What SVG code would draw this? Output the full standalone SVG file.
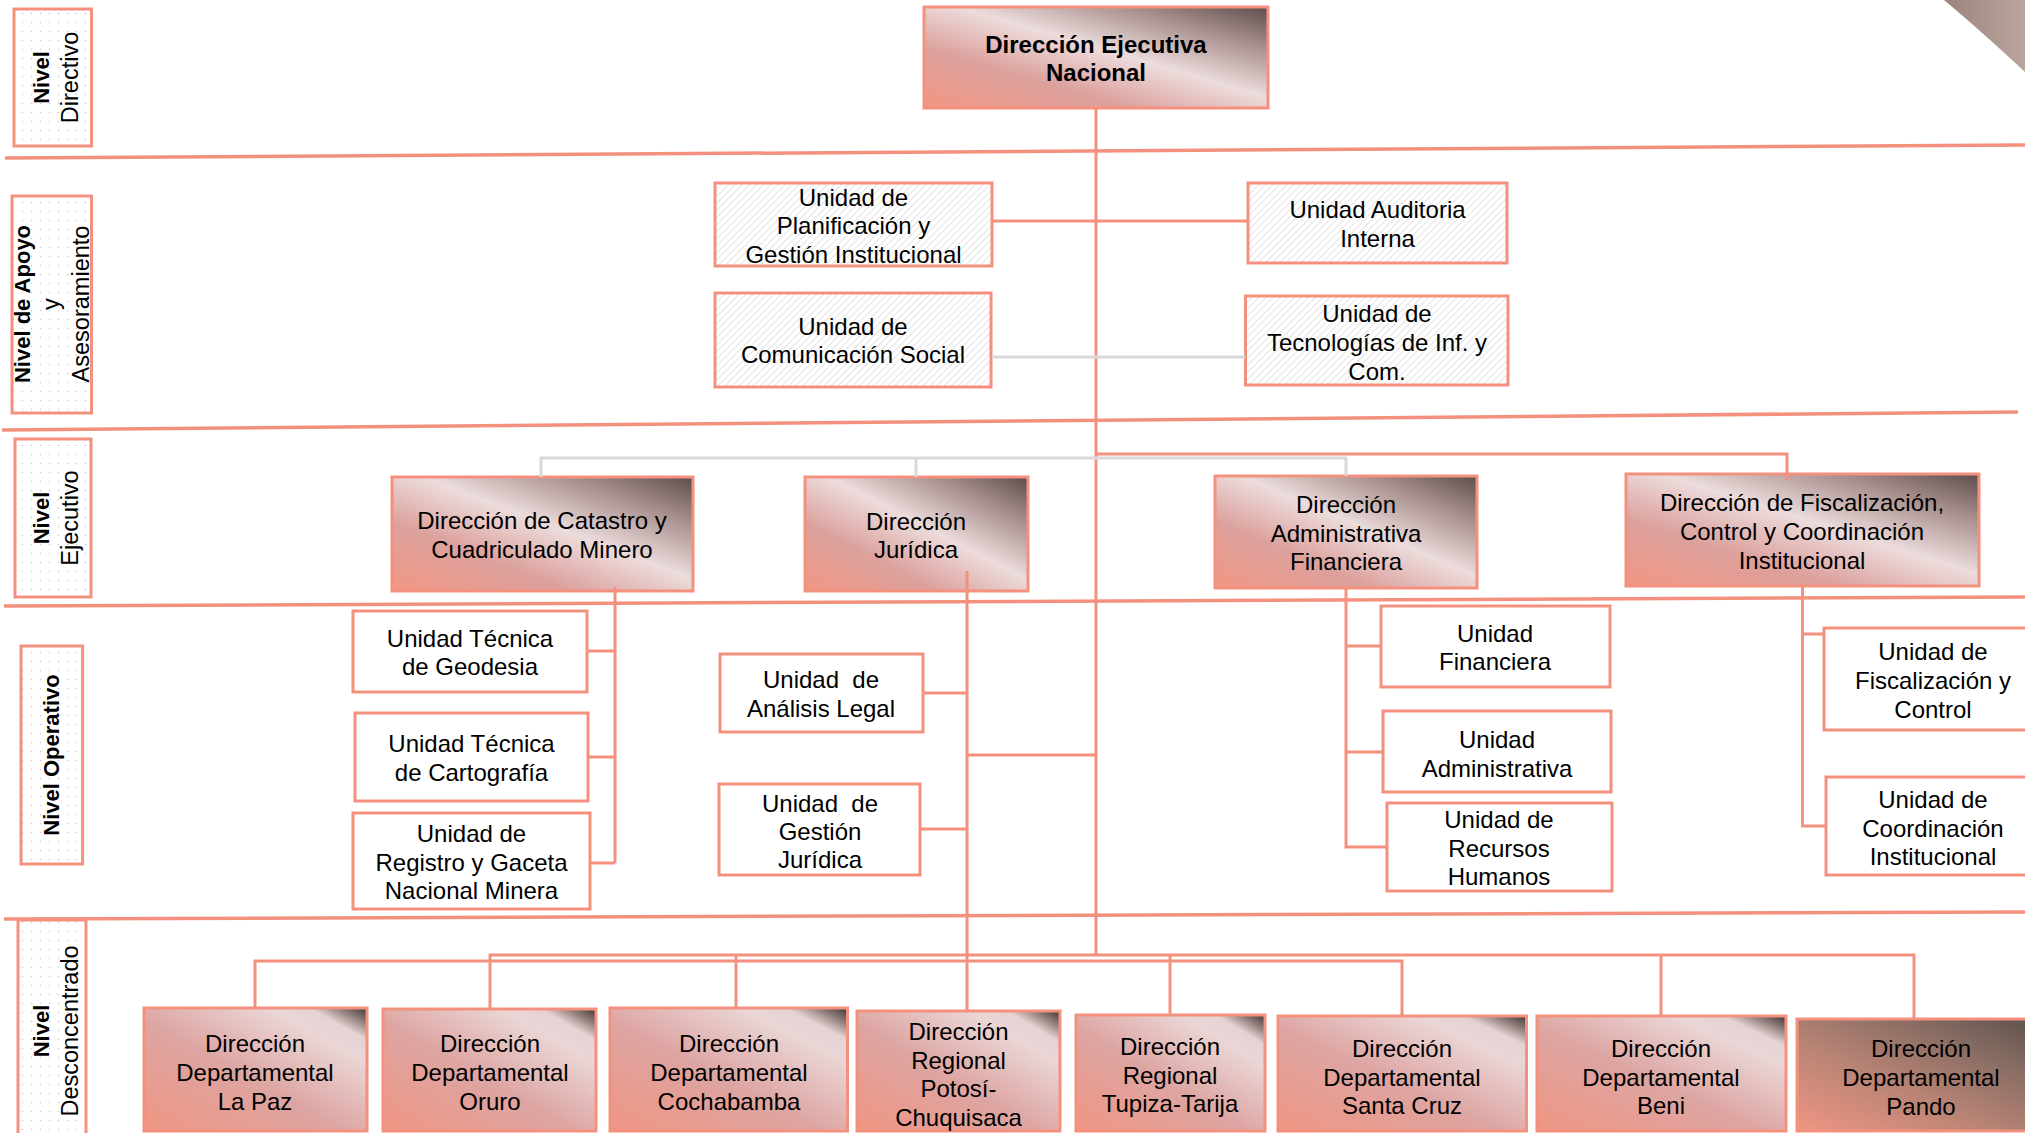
<svg xmlns="http://www.w3.org/2000/svg" width="2025" height="1133" viewBox="0 0 2025 1133">
<defs>
<linearGradient id="gExec" x1="0" y1="1" x2="1" y2="0">
<stop offset="0" stop-color="#f29683"/>
<stop offset="0.3" stop-color="#dca19d"/>
<stop offset="0.55" stop-color="#ecdcdc"/>
<stop offset="0.8" stop-color="#a58d8a"/>
<stop offset="1" stop-color="#5b4d4b"/>
</linearGradient>
<linearGradient id="gDept" x1="0" y1="1" x2="1" y2="0">
<stop offset="0" stop-color="#f09583"/>
<stop offset="0.45" stop-color="#dda5a2"/>
<stop offset="0.78" stop-color="#ead6d6"/>
<stop offset="0.87" stop-color="#e6d2d2"/>
<stop offset="0.94" stop-color="#8a7876"/>
<stop offset="1" stop-color="#3e3634"/>
</linearGradient>
<linearGradient id="gPando" x1="0" y1="1" x2="1" y2="0">
<stop offset="0" stop-color="#f09583"/>
<stop offset="0.4" stop-color="#b98475"/>
<stop offset="0.7" stop-color="#8b6e64"/>
<stop offset="1" stop-color="#5a504c"/>
</linearGradient>
<linearGradient id="gCorner" x1="0" y1="0" x2="1" y2="0">
<stop offset="0" stop-color="#9c837b"/>
<stop offset="1" stop-color="#b9a69e"/>
</linearGradient>
<pattern id="dots" width="9" height="9" patternUnits="userSpaceOnUse">
<rect width="9" height="9" fill="#fff"/>
<circle cx="4.5" cy="4.5" r="0.8" fill="#cacaca"/>
</pattern>
<pattern id="hatch" width="5" height="5" patternUnits="userSpaceOnUse" patternTransform="rotate(45)">
<rect width="5" height="5" fill="#fff"/>
<line x1="0" y1="0" x2="0" y2="5" stroke="#d2d2d2" stroke-width="1.2"/>
</pattern>
</defs>
<style>
.lvl{fill:url(#dots);stroke:#f4917e;stroke-width:3}
.sup{fill:url(#hatch);stroke:#f4917e;stroke-width:3}
.exe{fill:url(#gExec);stroke:#f4917e;stroke-width:3}
.op{fill:#fff;stroke:#f4917e;stroke-width:3}
.dep{fill:url(#gDept);stroke:#f4917e;stroke-width:3}
.pan{fill:url(#gPando);stroke:#f4917e;stroke-width:3}
.sep{stroke:#f4917e;stroke-width:3.5;fill:none}
.c{stroke:#f4917e;stroke-width:3;fill:none}
.g{stroke:#d9d9d9;stroke-width:3;fill:none}
text{font-family:"Liberation Sans",Arial,sans-serif;font-size:24px;fill:#000;text-anchor:middle}
.b{font-weight:bold}
.lt{font-size:23.5px}
.lb{font-size:22px;font-weight:bold}
</style>
<rect width="2025" height="1133" fill="#fff"/>
<path d="M1944,0 Q1980,30 2025,72 L2025,0 Z" fill="url(#gCorner)"/>

<g id="levels">
<line class="sep" x1="5" y1="158" x2="2025" y2="145"/>
<line class="sep" x1="2" y1="430" x2="2018" y2="412"/>
<line class="sep" x1="4" y1="606" x2="2025" y2="597"/>
<line class="sep" x1="4" y1="919" x2="2025" y2="912"/>
</g>

<g id="lvl-directivo">
<rect class="lvl" x="14" y="9" width="77.5" height="137"/>
<text class="lb" transform="translate(49,77.5) rotate(-90)">Nivel</text>
<text class="lt" transform="translate(78,77.5) rotate(-90)">Directivo</text>
</g>
<g id="lvl-apoyo">
<rect class="lvl" x="12" y="196" width="79.5" height="217"/>
<text class="lb" transform="translate(29.5,304) rotate(-90)">Nivel de Apoyo</text>
<text class="lt" transform="translate(59,304) rotate(-90)">y</text>
<text class="lt" transform="translate(88.5,304) rotate(-90)">Asesoramiento</text>
</g>
<g id="lvl-ejecutivo">
<rect class="lvl" x="15" y="439" width="76" height="158"/>
<text class="lb" transform="translate(49,518) rotate(-90)">Nivel</text>
<text class="lt" transform="translate(77.5,518) rotate(-90)">Ejecutivo</text>
</g>
<g id="lvl-operativo">
<rect class="lvl" x="21" y="646" width="61.6" height="218"/>
<text class="lb" transform="translate(59,755) rotate(-90)">Nivel Operativo</text>
</g>
<g id="lvl-desconcentrado">
<rect class="lvl" x="18" y="920" width="68" height="230"/>
<text class="lb" transform="translate(49,1031) rotate(-90)">Nivel</text>
<text class="lt" transform="translate(78,1031) rotate(-90)">Desconcentrado</text>
</g>

<g id="den">
<rect class="exe" x="924" y="7" width="344" height="101"/>
<text class="b"><tspan x="1096" y="52.5">Dirección Ejecutiva</tspan><tspan x="1096" y="80.5">Nacional</tspan></text>
</g>
<g id="planificacion">
<rect class="sup" x="715" y="183" width="277" height="83"/>
<text><tspan x="853.5" y="205.5">Unidad de</tspan><tspan x="853.5" y="234">Planificación y</tspan><tspan x="853.5" y="262.5">Gestión Institucional</tspan></text>
</g>
<g id="auditoria">
<rect class="sup" x="1248" y="183" width="259" height="80"/>
<text><tspan x="1377.5" y="218">Unidad Auditoria</tspan><tspan x="1377.5" y="247">Interna</tspan></text>
</g>
<g id="comunicacion">
<rect class="sup" x="715" y="293" width="276" height="94"/>
<text><tspan x="853" y="334.5">Unidad de</tspan><tspan x="853" y="362.5">Comunicación Social</tspan></text>
</g>
<g id="tecnologias">
<rect class="sup" x="1245.5" y="296" width="262.5" height="89"/>
<text><tspan x="1377" y="321.5">Unidad de</tspan><tspan x="1377" y="351">Tecnologías de Inf. y</tspan><tspan x="1377" y="380">Com.</tspan></text>
</g>

<g id="catastro">
<rect class="exe" x="392" y="477" width="301" height="114"/>
<text><tspan x="542" y="529">Dirección de Catastro y</tspan><tspan x="542" y="558">Cuadriculado Minero</tspan></text>
</g>
<g id="juridica">
<rect class="exe" x="805" y="477" width="223" height="114"/>
<text><tspan x="916" y="530">Dirección</tspan><tspan x="916" y="558">Jurídica</tspan></text>
</g>
<g id="admfin">
<rect class="exe" x="1215" y="476" width="262" height="112"/>
<text><tspan x="1346" y="513">Dirección</tspan><tspan x="1346" y="541.5">Administrativa</tspan><tspan x="1346" y="570">Financiera</tspan></text>
</g>
<g id="fiscalizacion">
<rect class="exe" x="1626" y="474" width="353" height="112"/>
<text><tspan x="1802" y="511">Dirección de Fiscalización,</tspan><tspan x="1802" y="540">Control y Coordinación</tspan><tspan x="1802" y="569">Institucional</tspan></text>
</g>

<g id="geodesia">
<rect class="op" x="353" y="611" width="234" height="81"/>
<text><tspan x="470" y="646.5">Unidad Técnica</tspan><tspan x="470" y="675">de Geodesia</tspan></text>
</g>
<g id="cartografia">
<rect class="op" x="355" y="713" width="233" height="88"/>
<text><tspan x="471.5" y="752">Unidad Técnica</tspan><tspan x="471.5" y="780.5">de Cartografía</tspan></text>
</g>
<g id="registro">
<rect class="op" x="353" y="813" width="237" height="96"/>
<text><tspan x="471.5" y="842">Unidad de</tspan><tspan x="471.5" y="870.5">Registro y Gaceta</tspan><tspan x="471.5" y="899">Nacional Minera</tspan></text>
</g>
<g id="analisis">
<rect class="op" x="720" y="654" width="203" height="78"/>
<text><tspan x="821" y="688">Unidad&#160; de</tspan><tspan x="821" y="716.5">Análisis Legal</tspan></text>
</g>
<g id="gestion-juridica">
<rect class="op" x="719" y="784" width="201" height="91"/>
<text><tspan x="820" y="812">Unidad&#160; de</tspan><tspan x="820" y="840">Gestión</tspan><tspan x="820" y="868">Jurídica</tspan></text>
</g>
<g id="financiera">
<rect class="op" x="1381" y="606" width="229" height="81"/>
<text><tspan x="1495" y="641.5">Unidad</tspan><tspan x="1495" y="670">Financiera</tspan></text>
</g>
<g id="administrativa">
<rect class="op" x="1383" y="711" width="228" height="81"/>
<text><tspan x="1497" y="748">Unidad</tspan><tspan x="1497" y="777">Administrativa</tspan></text>
</g>
<g id="rrhh">
<rect class="op" x="1387" y="803" width="225" height="88"/>
<text><tspan x="1499" y="828">Unidad de</tspan><tspan x="1499" y="856.5">Recursos</tspan><tspan x="1499" y="885">Humanos</tspan></text>
</g>
<g id="fisc-control">
<rect class="op" x="1824" y="628" width="218" height="102"/>
<text><tspan x="1933" y="660">Unidad de</tspan><tspan x="1933" y="689">Fiscalización y</tspan><tspan x="1933" y="718">Control</tspan></text>
</g>
<g id="coordinacion">
<rect class="op" x="1826" y="777" width="218" height="98"/>
<text><tspan x="1933" y="808">Unidad de</tspan><tspan x="1933" y="836.5">Coordinación</tspan><tspan x="1933" y="865">Institucional</tspan></text>
</g>

<g id="lapaz">
<rect class="dep" x="144" y="1008" width="223" height="123"/>
<text><tspan x="255" y="1052">Dirección</tspan><tspan x="255" y="1081">Departamental</tspan><tspan x="255" y="1110">La Paz</tspan></text>
</g>
<g id="oruro">
<rect class="dep" x="383" y="1009" width="213" height="122"/>
<text><tspan x="490" y="1052">Dirección</tspan><tspan x="490" y="1081">Departamental</tspan><tspan x="490" y="1110">Oruro</tspan></text>
</g>
<g id="cochabamba">
<rect class="dep" x="610" y="1008" width="237.5" height="123"/>
<text><tspan x="729" y="1052">Dirección</tspan><tspan x="729" y="1081">Departamental</tspan><tspan x="729" y="1110">Cochabamba</tspan></text>
</g>
<g id="potosi">
<rect class="dep" x="857" y="1011" width="203" height="120"/>
<text><tspan x="958.5" y="1040">Dirección</tspan><tspan x="958.5" y="1068.5">Regional</tspan><tspan x="958.5" y="1097">Potosí-</tspan><tspan x="958.5" y="1125.5">Chuquisaca</tspan></text>
</g>
<g id="tupiza">
<rect class="dep" x="1076" y="1015" width="189" height="116"/>
<text><tspan x="1170" y="1055">Dirección</tspan><tspan x="1170" y="1083.5">Regional</tspan><tspan x="1170" y="1112">Tupiza-Tarija</tspan></text>
</g>
<g id="santacruz">
<rect class="dep" x="1278" y="1016" width="248.5" height="115"/>
<text><tspan x="1402" y="1057">Dirección</tspan><tspan x="1402" y="1085.5">Departamental</tspan><tspan x="1402" y="1114">Santa Cruz</tspan></text>
</g>
<g id="beni">
<rect class="dep" x="1537" y="1016" width="249" height="115"/>
<text><tspan x="1661" y="1057">Dirección</tspan><tspan x="1661" y="1085.5">Departamental</tspan><tspan x="1661" y="1114">Beni</tspan></text>
</g>
<g id="pando">
<rect class="pan" x="1797" y="1019" width="248" height="112"/>
<text><tspan x="1921" y="1057">Dirección</tspan><tspan x="1921" y="1086">Departamental</tspan><tspan x="1921" y="1115">Pando</tspan></text>
</g>

<g id="connectors">
<path class="c" d="M1096,108 V955"/>
<path class="c" d="M992,221 H1248"/>
<path class="g" d="M992,357 H1245"/>
<path class="g" d="M541,477 V458 H1346 V476 M916,458 V477"/>
<path class="c" d="M1096,454 H1787 V480"/>
<path class="c" d="M615,587 V863 M587,651 H615 M588,757 H615 M590,863 H615"/>
<path class="c" d="M967,571 V1011 M922.6,693 H967 M920,829 H967 M967,755 H1096"/>
<path class="c" d="M1346,588 V847 H1387 M1346,646 H1381 M1346,752 H1383"/>
<path class="c" d="M1802.5,586 V826 H1826 M1802.5,634 H1824"/>
<path class="c" d="M490,1009 V955 H1914 V1019 M736,955 V1008 M1170,955 V1015 M1661,955 V1016"/>
<path class="c" d="M255,1008 V961 H1402 V1016"/>
</g>
</svg>
